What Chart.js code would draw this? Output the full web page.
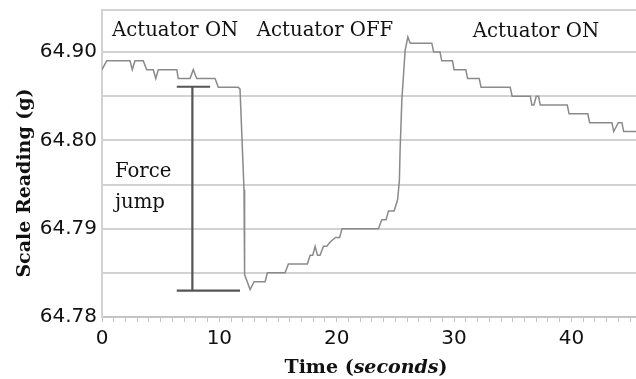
<!DOCTYPE html>
<html><head><meta charset="utf-8">
<script src="https://cdn.jsdelivr.net/npm/chart.js@4.4.0/dist/chart.umd.min.js"></script>
<style>html,body{margin:0;padding:0;background:#fff;}</style>
</head><body>
<canvas id="c" width="636" height="379"></canvas>
<script>
// ---- data ----
const timeSeconds = [0, 0.40, 2.39, 2.58, 2.81, 3.52, 3.81, 4.37, 4.58, 4.80, 6.37, 6.50, 7.50, 7.78, 8.07, 9.63, 9.91, 11.62,
  11.76, 12.10, 12.15, 12.62, 12.96, 13.90, 14.09, 15.60, 15.88, 17.50, 17.73, 17.96, 18.16, 18.36, 18.58, 18.87, 19.15,
  19.44, 19.90, 20.25, 20.45, 23.55, 23.84, 24.20, 24.41, 24.89, 25.12, 25.19, 25.34, 25.40, 25.55, 25.83, 26.06, 26.26,
  28.10, 28.26, 28.80, 28.95, 29.86, 30.00, 31.00, 31.15, 32.14, 32.30, 34.78, 34.95, 36.49, 36.63, 36.80, 37.00, 37.20,
  37.34, 39.64, 39.80, 41.39, 41.55, 43.45, 43.60, 43.99, 44.30, 44.45, 45.5];
const scaleReading = [64.808, 64.809, 64.809, 64.808, 64.809, 64.809, 64.808, 64.808, 64.807, 64.808, 64.808, 64.807, 64.807, 64.808, 64.807, 64.807, 64.806, 64.806,
  64.8058, 64.7944, 64.7848, 64.7831, 64.784, 64.784, 64.785, 64.785, 64.786, 64.786, 64.787, 64.787, 64.788, 64.787, 64.787, 64.788, 64.788,
  64.7885, 64.789, 64.789, 64.790, 64.790, 64.791, 64.791, 64.792, 64.792, 64.793, 64.7933, 64.7955, 64.7989, 64.8046, 64.8102, 64.8117, 64.811,
  64.811, 64.810, 64.810, 64.809, 64.809, 64.808, 64.808, 64.807, 64.807, 64.806, 64.806, 64.805, 64.805, 64.804, 64.804, 64.805, 64.805,
  64.804, 64.804, 64.803, 64.803, 64.802, 64.802, 64.801, 64.802, 64.802, 64.801, 64.801];

const xTickValues = [0, 10, 20, 30, 40];
const yTickValues = [64.78, 64.79, 64.80, 64.81];
const yTickLabels = ['64.78', '64.79', '64.80', '64.90'];

// "Force jump" bracket (data units)
const jumpTimes  = [6.37, 9.21, null, 7.70, 7.70, null, 6.37, 11.76];
const jumpValues = [64.80607, 64.80607, null, 64.80607, 64.78298, null, 64.78298, 64.78298];

// text notes (data units)
const noteTexts  = ['Actuator ON', 'Actuator OFF', 'Actuator ON', 'Force', 'jump'];
const noteTimes  = [0.85, 13.19, 31.6, 1.1, 1.1];
const noteValues = [64.8118, 64.8118, 64.8117, 64.79585, 64.79234];

const X_MIN = 0, X_MAX = 45.5, Y_MIN = 64.78, Y_MAX = 64.81476;

const lineData = timeSeconds.map((t, i) => ({x: t, y: scaleReading[i]}));
const jumpData = jumpTimes.map((t, i) => ({x: t === null ? NaN : t, y: jumpValues[i]}));

const notesPlugin = {
  id: 'notes',
  afterDatasetsDraw(chart) {
    const {ctx, scales: {x, y}, chartArea} = chart;
    ctx.save();
    ctx.fillStyle = '#111';
    ctx.textBaseline = 'alphabetic';
    ctx.textAlign = 'left';
    ctx.font = '19.7px "DejaVu Serif"';
    noteTexts.forEach((txt, i) => {
      ctx.fillText(txt, x.getPixelForValue(noteTimes[i]), y.getPixelForValue(noteValues[i]));
    });
    // x axis title: "Time (seconds)" with italic "seconds"
    const parts = [['Time (', 'bold 19px "DejaVu Serif"'], ['seconds', 'italic bold 19px "DejaVu Serif"'], [')', 'bold 19px "DejaVu Serif"']];
    let total = 0;
    parts.forEach(p => { ctx.font = p[1]; total += ctx.measureText(p[0]).width; });
    let px = (chartArea.left + chartArea.right) / 2 - 3 - total / 2;
    const py = chartArea.bottom + 56;
    parts.forEach(p => { ctx.font = p[1]; ctx.fillText(p[0], px, py); px += ctx.measureText(p[0]).width; });
    // y axis title
    ctx.font = 'bold 19px "DejaVu Serif"';
    ctx.translate(chartArea.left - 72, 183);
    ctx.rotate(-Math.PI / 2);
    ctx.textAlign = 'center';
    ctx.fillText('Scale Reading (g)', 0, 0);
    ctx.restore();
  }
};

new Chart(document.getElementById('c'), {
  type: 'line',
  data: {
    datasets: [
      {data: lineData, borderColor: '#8a8a8a', borderWidth: 1.5, pointRadius: 0, tension: 0, fill: false},
      {data: jumpData, borderColor: '#555', borderWidth: 2.2, pointRadius: 0, tension: 0, fill: false, spanGaps: false}
    ]
  },
  options: {
    responsive: false,
    animation: false,
    devicePixelRatio: 1,
    layout: {padding: {top: 10, right: 0, left: 0, bottom: 0}},
    plugins: {legend: {display: false}, tooltip: {enabled: false}},
    scales: {
      x: {
        type: 'linear', min: X_MIN, max: X_MAX,
        afterFit(s) { s.height = 62; s.paddingLeft = 0; s.paddingRight = 0; },
        ticks: {
          stepSize: 1, autoSkip: false, maxRotation: 0, minRotation: 0, includeBounds: false,
          padding: 5, color: '#111', font: {family: 'DejaVu Sans', size: 20},
          callback: v => xTickValues.some(t => Math.abs(t - v) < 1e-6) ? String(Math.round(v)) : ''
        },
        grid: {drawOnChartArea: false, drawTicks: true, tickLength: 5, color: '#c4c4c4', lineWidth: 1},
        border: {display: true, color: '#c4c4c4', width: 2}
      },
      y: {
        type: 'linear', min: Y_MIN, max: Y_MAX,
        afterFit(s) { s.width = 102; s.paddingTop = 0; s.paddingBottom = 0; },
        ticks: {
          stepSize: 0.005, includeBounds: true, padding: 5, color: '#111',
          font: {family: 'DejaVu Sans', size: 20},
          callback: v => { const k = yTickValues.findIndex(t => Math.abs(t - v) < 1e-6); return k >= 0 ? yTickLabels[k] : ''; }
        },
        grid: {color: '#d2d2d2', lineWidth: 2, drawTicks: false},
        border: {display: true, color: '#d2d2d2', width: 2}
      }
    }
  },
  plugins: [notesPlugin]
});
</script>
</body></html>
